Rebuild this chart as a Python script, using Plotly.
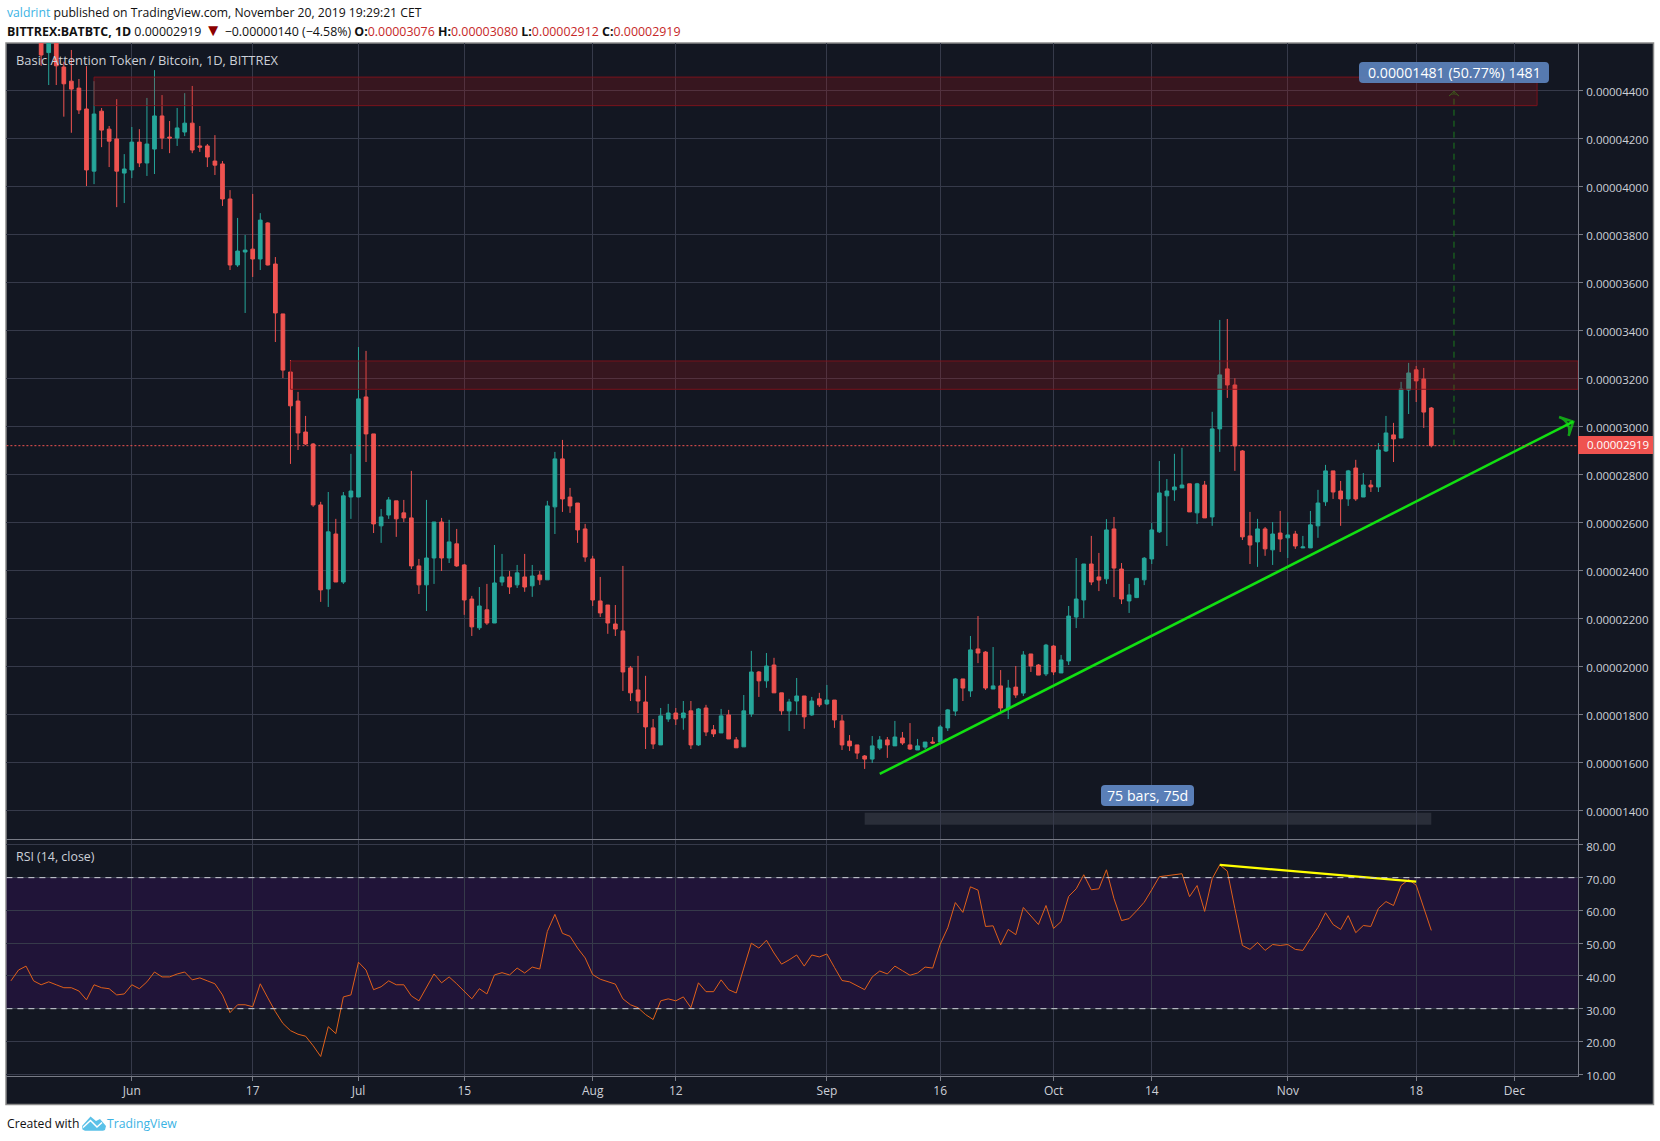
import numpy as np
import pandas as pd
import plotly.graph_objects as go
from plotly.subplots import make_subplots

W = 1660
H = 1141

# daily candles from 2019-05-20, values in satoshi (1e-8 BTC)
open_ = [4640, 4557, 4640, 4497, 4438, 4409, 4322, 4063, 4313, 4238, 4197, 4055,
         4068, 4184, 4097, 4155, 4293, 4205, 4201, 4226, 4263, 4168, 4168, 4105, 4093, 3947, 3672, 3726, 3738, 3697, 3847, 3676, 3468, 3226, 3105, 2976, 2926, 2672, 2322, 2551, 2351, 2705,
         2705, 3122, 2968, 2585, 2630, 2689, 2639, 2618, 2418, 2339, 2451, 2601, 2451, 2510, 2422, 2280, 2160, 2235, 2180, 2351, 2372, 2339, 2372, 2335, 2380, 2360, 2664, 2864, 2705, 2680, 2572,
         2447, 2272, 2255, 2176, 2147, 1993, 1901, 1851, 1743, 1672, 1780, 1805, 1785, 1814, 1672, 1826, 1735, 1722, 1797, 1693, 1664, 1801, 1976, 1939, 2005, 1889, 1814, 1855, 1876, 1797, 1864,
         1843, 1859, 1772, 1688, 1672, 1626, 1613, 1659, 1693, 1668, 1701, 1672, 1651, 1663, 1684, 1684, 1743, 1813, 1947, 1897, 2072, 2059, 1905, 1918, 1822, 1913, 1888, 2051, 2005, 1968,
         2084, 1972, 2022, 2205, 2276, 2426, 2372, 2364, 2572, 2405, 2272, 2286, 2360, 2447, 2560, 2710, 2735, 2743, 2760, 2639, 2755, 2622, 2989, 3239, 3172, 2897, 2543, 2518, 2572, 2485, 2555,
         2535, 2551, 2493, 2493, 2585, 2685, 2814, 2730, 2697, 2826, 2705, 2755, 2747, 2897, 2964, 2951, 3151, 3235, 3197, 3076]
high = [4660, 4680, 4670, 4519, 4568, 4447, 4501, 4438, 4326, 4251, 4363, 4134,
        4247, 4238, 4368, 4484, 4380, 4272, 4326, 4388, 4418, 4251, 4176, 4213, 4105, 3984, 3868, 3797, 3968, 3888, 3850, 3705, 3468, 3276, 3143, 3043, 2930, 2685, 2726, 2614, 2726, 2885,
        3330, 3314, 2968, 2655, 2705, 2689, 2693, 2814, 2447, 2693, 2601, 2618, 2610, 2572, 2426, 2293, 2330, 2343, 2505, 2468, 2397, 2422, 2468, 2422, 2397, 2689, 2893, 2943, 2743, 2680, 2593,
        2460, 2372, 2255, 2255, 2418, 2001, 2043, 1960, 1780, 1826, 1843, 1826, 1855, 1855, 1826, 1839, 1755, 1822, 1818, 1705, 1880, 2064, 1980, 2055, 2035, 1889, 1864, 1951, 1876, 1872, 1889,
        1922, 1859, 1797, 1713, 1672, 1630, 1709, 1709, 1705, 1772, 1726, 1763, 1697, 1684, 1705, 1755, 1822, 1951, 1947, 2126, 2209, 2063, 2080, 1984, 1943, 2001, 2063, 2051, 2009, 2093,
        2088, 2047, 2251, 2451, 2426, 2543, 2472, 2613, 2622, 2430, 2343, 2368, 2455, 2597, 2855, 2780, 2885, 2910, 2760, 2764, 2772, 3060, 3443, 3447, 3200, 2901, 2643, 2614, 2580, 2601, 2647,
        2601, 2564, 2543, 2647, 2735, 2839, 2814, 2772, 2818, 2860, 2805, 2776, 2930, 3043, 3014, 3185, 3264, 3251, 3243, 3080]
low = [4502, 4422, 4422, 4290, 4223, 4301, 4001, 4009, 4163, 4080, 3913, 3930,
       4034, 4080, 4043, 4051, 4155, 4138, 4168, 4209, 4138, 4143, 4080, 4047, 3918, 3651, 3664, 3472, 3622, 3651, 3670, 3351, 3201, 2843, 2901, 2922, 2664, 2268, 2247, 2351, 2343, 2614,
       2705, 2851, 2555, 2514, 2614, 2539, 2601, 2405, 2301, 2230, 2343, 2397, 2430, 2414, 2214, 2126, 2151, 2172, 2180, 2335, 2301, 2326, 2310, 2289, 2339, 2360, 2551, 2643, 2639, 2514, 2435,
       2251, 2205, 2135, 2126, 1897, 1855, 1805, 1655, 1655, 1672, 1768, 1755, 1735, 1655, 1668, 1709, 1705, 1722, 1697, 1660, 1664, 1789, 1872, 1910, 1889, 1797, 1730, 1797, 1739, 1793, 1830,
       1838, 1743, 1651, 1647, 1613, 1572, 1597, 1651, 1618, 1668, 1672, 1651, 1651, 1655, 1676, 1684, 1730, 1793, 1855, 1872, 2013, 1901, 1905, 1809, 1780, 1868, 1876, 1976, 1963, 1959,
       1963, 1972, 2005, 2159, 2201, 2338, 2313, 2343, 2288, 2259, 2222, 2284, 2338, 2426, 2555, 2501, 2689, 2743, 2643, 2593, 2618, 2585, 2893, 3118, 2814, 2526, 2426, 2414, 2460, 2422, 2476,
       2451, 2489, 2493, 2493, 2535, 2668, 2697, 2585, 2668, 2689, 2705, 2726, 2726, 2893, 2851, 2951, 3051, 3101, 2993, 2912]
close = [4547, 4650, 4502, 4427, 4405, 4318, 4068, 4301, 4234, 4188, 4063, 4072,
         4184, 4097, 4176, 4293, 4201, 4201, 4243, 4263, 4151, 4163, 4122, 4088, 3947, 3672, 3730, 3734, 3697, 3859, 3672, 3472, 3234, 3085, 2972, 2926, 2672, 2318, 2560, 2351, 2710, 2730,
         3114, 2968, 2593, 2622, 2693, 2614, 2618, 2418, 2339, 2451, 2601, 2451, 2518, 2418, 2276, 2164, 2251, 2180, 2347, 2372, 2330, 2389, 2330, 2376, 2360, 2668, 2864, 2697, 2668, 2568, 2455,
         2276, 2222, 2180, 2155, 1976, 1889, 1855, 1747, 1676, 1793, 1805, 1780, 1805, 1672, 1822, 1726, 1718, 1793, 1697, 1660, 1814, 1976, 1939, 2001, 1889, 1814, 1851, 1876, 1789, 1855, 1839,
         1859, 1776, 1672, 1668, 1638, 1613, 1668, 1693, 1672, 1705, 1680, 1655, 1668, 1684, 1680, 1747, 1818, 1947, 1909, 2068, 2055, 1909, 1918, 1826, 1909, 1880, 2047, 2001, 1963, 2088,
         1976, 2026, 2209, 2280, 2426, 2351, 2359, 2568, 2409, 2280, 2297, 2366, 2450, 2568, 2722, 2730, 2747, 2755, 2643, 2760, 2618, 2989, 3214, 3172, 2918, 2539, 2505, 2572, 2489, 2551, 2530,
         2547, 2501, 2497, 2589, 2680, 2814, 2726, 2697, 2814, 2697, 2755, 2747, 2901, 2972, 2947, 3155, 3222, 3189, 3059, 2919]

# RSI(14) from 2019-05-16
rsi = [38.5, 41.8, 43.0, 38.5, 37.3, 38.2, 37.3, 36.4, 36.4, 35.4, 32.7, 37.3, 36.4, 36.1, 34.2, 34.5,
       37.3, 36.1, 38.2, 41.2, 39.7, 39.7, 40.6, 41.2, 38.8, 39.4, 38.5, 37.6, 34.2, 28.8, 31.2, 31.2, 30.6, 37.6, 33.3, 29.1, 25.5, 23.3, 22.2, 21.6, 18.7, 15.4, 24.5, 22.4, 33.6, 34.2,
       44.2, 41.8, 35.8, 36.7, 38.5, 37.3, 37.3, 33.9, 32.4, 36.4, 40.6, 37.9, 39.7, 37.6, 35.2, 33.0, 36.1, 34.5, 40.3, 41.0, 40.3, 42.4, 40.9, 42.7, 42.1, 53.6, 58.8, 53.0, 52.1, 48.5, 45.5,
       40.4, 39.0, 38.2, 37.5, 33.0, 31.2, 30.3, 28.2, 26.7, 32.4, 33.0, 32.4, 33.6, 30.3, 37.9, 35.2, 35.2, 38.8, 35.8, 34.8, 42.4, 50.0, 48.5, 50.9, 47.0, 43.6, 44.9, 46.4, 43.0, 46.4, 45.8,
       46.7, 42.6, 38.6, 38.2, 37.0, 35.8, 39.7, 41.5, 40.6, 43.0, 41.6, 40.2, 40.9, 42.7, 42.4, 49.7, 54.7, 62.4, 59.4, 67.2, 66.2, 55.1, 55.3, 49.5, 54.2, 52.6, 60.9, 58.3, 55.7, 61.5,
       54.5, 56.6, 64.3, 66.6, 70.9, 66.3, 66.6, 72.4, 63.6, 56.9, 57.5, 59.9, 62.5, 66.3, 70.3, 70.6, 70.9, 71.2, 64.2, 67.6, 59.7, 69.7, 73.9, 72.0, 60.6, 49.3, 48.1, 50.2, 47.8, 49.6, 49.3,
       49.6, 48.1, 47.8, 51.4, 54.8, 59.3, 55.7, 54.2, 58.4, 53.2, 55.4, 55.1, 60.6, 62.7, 61.5, 67.6, 69.4, 67.7, 60.6, 53.9]

time_ticks = ["2019-06-01", "2019-06-17", "2019-07-01", "2019-07-15", "2019-08-01", "2019-08-12", "2019-09-01",
              "2019-09-16", "2019-10-01", "2019-10-14", "2019-11-01", "2019-11-18", "2019-12-01"]
time_labels = ["Jun", "17", "Jul", "15", "Aug", "12", "Sep", "16", "Oct", "14", "Nov", "18", "Dec"]
price_ticks = [1400, 1600, 1800, 2000, 2200, 2400, 2600, 2800, 3000, 3200, 3400, 3600, 3800, 4000, 4200, 4400]
rsi_ticks = [10, 20, 30, 40, 50, 60, 70, 80]

# drawings on the chart
zone_top = [4336, 4455]
zone_low = [3154, 3272]
trend_x = ["2019-09-08", "2019-12-08 19:00"]
trend_y = [1551, 3019]
target_x = ["2019-11-23", "2019-11-23"]
target_y = [2919, 4397]
div_x = ["2019-10-23", "2019-11-18"]
div_y = [73.9, 68.8]
last_price = 2919

SAT = 1e-8
BG = "#131722"
GRID = "#363a4a"
EDGE = "#787b86"
TEXT = "#cdd0d8"
UP = "#26a69a"
DOWN = "#ef5350"
TREND = "#12e012"
ZONE = "rgba(170,19,26,0.24)"
FONT = "Open Sans"
LABEL = "#5a7fb8"


def px(x):
    return x / W


def py(y):
    return 1 - y / H


def poly(points, close_path=True):
    # page pixel points to a paper path
    s = ""
    for i, p in enumerate(points):
        s += "%s %.5f %.5f " % ("M" if i == 0 else "L", px(p[0]), py(p[1]))
    return s + ("Z" if close_path else "")


def rounded(x0, y0, x1, y1, r=4):
    # rounded box in page pixels, as a paper path
    pts = [("M", x0 + r, y0), ("L", x1 - r, y0), ("Q", x1, y0, x1, y0 + r), ("L", x1, y1 - r),
           ("Q", x1, y1, x1 - r, y1), ("L", x0 + r, y1), ("Q", x0, y1, x0, y1 - r), ("L", x0, y0 + r),
           ("Q", x0, y0, x0 + r, y0)]
    s = ""
    for p in pts:
        s += p[0]
        for i, v in enumerate(p[1:]):
            s += (" %.5f" % px(v)) if i % 2 == 0 else (" %.5f" % py(v))
        s += " "
    return s + "Z"


def sat(v):
    return np.array(v) * SAT


candle_days = pd.date_range("2019-05-20", periods=len(close))
rsi_days = pd.date_range("2019-05-16", periods=len(rsi))

fig = make_subplots(rows=2, cols=1, shared_xaxes=True, vertical_spacing=0.001)

fig.add_trace(go.Candlestick(x=candle_days, open=sat(open_), high=sat(high), low=sat(low), close=sat(close),
                             increasing=dict(line=dict(color=UP, width=1), fillcolor=UP),
                             decreasing=dict(line=dict(color=DOWN, width=1), fillcolor=DOWN),
                             whiskerwidth=0, hoverinfo="skip"), row=1, col=1)

# trend line with open arrow head
fig.add_trace(go.Scatter(x=trend_x, y=sat(trend_y), mode="lines+markers",
                         line=dict(color=TREND, width=2.5),
                         marker=dict(symbol="arrow-wide-open", size=[0, 15], angleref="previous",
                                     color=TREND, line=dict(color=TREND, width=2.5)),
                         hoverinfo="skip"), row=1, col=1)

# measured move
fig.add_trace(go.Scatter(x=target_x, y=sat(target_y), mode="lines+markers",
                         line=dict(color="#1c7a1c", width=1, dash="6px,5px"),
                         marker=dict(symbol="arrow-wide-open", size=[0, 7], angleref="previous",
                                     color="#1c7a1c", line=dict(color="#1c7a1c", width=1)),
                         hoverinfo="skip"), row=1, col=1)

fig.add_trace(go.Scatter(x=rsi_days, y=rsi, mode="lines", line=dict(color="#e0601a", width=1),
                         hoverinfo="skip"), row=2, col=1)
fig.add_trace(go.Scatter(x=div_x, y=div_y, mode="lines", line=dict(color="#ffff00", width=2.2),
                         hoverinfo="skip"), row=2, col=1)

shapes = [
    # dark frame of the whole widget
    dict(type="rect", xref="paper", yref="paper", x0=px(6), x1=px(1653.5), y0=py(43), y1=py(1104.5),
         fillcolor=BG, line=dict(color="#8a8a8a", width=1.5), layer="below"),
    dict(type="rect", xref="x2 domain", yref="y2", x0=0, x1=1, y0=30, y1=70,
         fillcolor="rgba(152,0,255,0.1)", line=dict(width=0), layer="below"),
    dict(type="line", xref="x2 domain", yref="y2", x0=0, x1=1, y0=70, y1=70,
         line=dict(color="#d1d4dc", width=1, dash="6px,5px"), layer="above"),
    dict(type="line", xref="x2 domain", yref="y2", x0=0, x1=1, y0=30, y1=30,
         line=dict(color="#d1d4dc", width=1, dash="6px,5px"), layer="above"),
    dict(type="line", xref="x domain", yref="y", x0=0, x1=1, y0=last_price * SAT, y1=last_price * SAT,
         line=dict(color=DOWN, width=1, dash="2px,2px"), layer="above"),
    dict(type="rect", xref="x", yref="y", x0="2019-05-27", x1="2019-12-04",
         y0=zone_top[0] * SAT, y1=zone_top[1] * SAT, fillcolor=ZONE,
         line=dict(color="rgba(130,18,28,0.9)", width=1), layer="above"),
    dict(type="rect", xref="x", yref="y", x0="2019-06-22", x1="2019-12-09 10:00",
         y0=zone_low[0] * SAT, y1=zone_low[1] * SAT, fillcolor=ZONE,
         line=dict(color="rgba(130,18,28,0.9)", width=1), layer="above"),
    # 75 bar span
    dict(type="rect", xref="x", yref="y", x0="2019-09-06", x1="2019-11-20",
         y0=1339 * SAT, y1=1389 * SAT, fillcolor="#2a2e39", line=dict(width=0), layer="below"),
    dict(type="path", xref="paper", yref="paper", path=rounded(1359, 62, 1549, 83), fillcolor=LABEL,
         opacity=0.95, line=dict(width=0), layer="above"),
    dict(type="path", xref="paper", yref="paper", path=rounded(1101, 785, 1194, 806), fillcolor=LABEL,
         line=dict(width=0), layer="above"),
    # price tag on the axis
    dict(type="rect", xref="paper", yref="paper", x0=px(1578), x1=px(1653), y0=py(436), y1=py(454),
         fillcolor=DOWN, line=dict(width=0), layer="above"),
    # TradingView logo
    dict(type="path", xref="paper", yref="paper",
         path=poly([(82, 1126), (90.5, 1116.5), (96, 1121), (100, 1119), (106, 1126), (105, 1130), (103, 1130.8),
                    (85, 1130.8), (82.5, 1129.5)]),
         fillcolor="#5bc1e8", line=dict(width=0), layer="above"),
    dict(type="path", xref="paper", yref="paper",
         path=poly([(83, 1127.5), (90.5, 1120.5), (97, 1127), (102, 1122.5)], close_path=False),
         line=dict(color="#ffffff", width=1.5), layer="above"),
]

txt = dict(family=FONT, size=12.2, color="#111111")
red = "#c62828"
annotations = [
    dict(x=px(6), y=py(13), text="<span style='color:#3bb3e4'>valdrint</span> published on TradingView.com, November 20, 2019 19:29:21 CET",
         font=txt),
    dict(x=px(6), y=py(30),
         text="<b>BITTREX:BATBTC, 1D</b> 0.00002919 <span style='color:#8b0000;font-size:17px'>▼</span> −0.00000140 (−4.58%%) "
              "<b>O:</b><span style='color:%s'>0.00003076</span> <b>H:</b><span style='color:%s'>0.00003080</span> "
              "<b>L:</b><span style='color:%s'>0.00002912</span> <b>C:</b><span style='color:%s'>0.00002919</span>" % (red, red, red, red),
         font=dict(family=FONT, size=12.4, color="#111111")),
    dict(x=px(15), y=py(60), text="Basic Attention Token / Bitcoin, 1D, BITTREX", font=dict(family=FONT, size=12.9, color=TEXT)),
    dict(x=px(15), y=py(856), text="RSI (14, close)", font=dict(family=FONT, size=12.4, color=TEXT)),
    dict(x=px(6), y=py(1123), text="Created with", font=txt),
    dict(x=px(106), y=py(1123), text="TradingView", font=dict(family=FONT, size=12.2, color="#3bb3e4")),
]
for a in annotations:
    a.update(xref="paper", yref="paper", xanchor="left", yanchor="middle", showarrow=False, borderpad=0)

centered = [
    dict(x=px(1454), y=py(72.5), text="0.00001481 (50.77%) 1481", font=dict(family=FONT, size=14.2, color="#ffffff")),
    dict(x=px(1147.5), y=py(795.5), text="75 bars, 75d", font=dict(family=FONT, size=14.2, color="#ffffff")),
    dict(x=px(1618), y=py(445), text="0.00002919", font=dict(family=FONT, size=11.5, color="#ffffff")),
]
for a in centered:
    a.update(xref="paper", yref="paper", xanchor="center", yanchor="middle", showarrow=False, borderpad=0)
annotations += centered

fig.update_layout(width=W, height=H, margin=dict(l=0, r=0, t=0, b=0, autoexpand=False), paper_bgcolor="#ffffff", plot_bgcolor=BG,
                  showlegend=False, shapes=shapes, annotations=annotations, hovermode=False,
                  font=dict(family=FONT, size=12, color=TEXT), dragmode=False)

x_common = dict(range=["2019-05-15 09:36", "2019-12-09 10:00"], domain=[px(6.4), px(1578)],
                tickmode="array", tickvals=time_ticks, ticktext=time_labels,
                gridcolor=GRID, gridwidth=1, showline=True, linecolor=EDGE, linewidth=1,
                zeroline=False, rangeslider=dict(visible=False))
fig.update_xaxes(**x_common)
fig.update_xaxes(showticklabels=False, ticks="", row=1, col=1)
fig.update_xaxes(showticklabels=True, ticks="outside", ticklen=4, tickcolor=EDGE, tickangle=0,
                 tickfont=dict(family=FONT, size=12, color=TEXT), row=2, col=1)

fig.update_yaxes(side="right", domain=[py(839), py(43)], range=[1280 * SAT, 4597 * SAT],
                 tickmode="array", tickvals=sat(price_ticks), tickformat=".8f", ticklabelshift=2, ticklabelstandoff=1,
                 gridcolor=GRID, showline=True, linecolor=EDGE, zeroline=False,
                 ticks="outside", ticklen=4, tickcolor=EDGE, tickfont=dict(family=FONT, size=11.5, color=TEXT), row=1, col=1)
fig.update_yaxes(side="right", domain=[py(1076), py(840)], range=[9.45, 81.5],
                 tickmode="array", tickvals=rsi_ticks, tickformat=".2f", ticklabelshift=2, ticklabelstandoff=1,
                 gridcolor=GRID, showline=True, linecolor=EDGE, zeroline=False,
                 ticks="outside", ticklen=4, tickcolor=EDGE, tickfont=dict(family=FONT, size=11.5, color=TEXT), row=2, col=1)

fig.write_html("out.html", config=dict(displayModeBar=False), post_script="document.body.style.margin='0';")
